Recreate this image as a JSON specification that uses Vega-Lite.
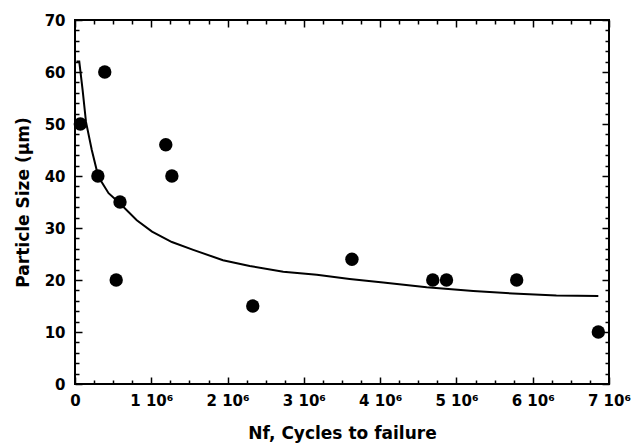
{
  "$schema": "https://vega.github.io/schema/vega-lite/v6.json",
  "width": 534,
  "height": 364,
  "autosize": {"type": "none"},
  "padding": {"left": 75, "top": 20, "right": 25, "bottom": 63},
  "background": "white",
  "config": {
    "view": {"stroke": "black", "strokeWidth": 2},
    "font": "DejaVu Sans",
    "axis": {
      "domain": false,
      "grid": false,
      "tickColor": "black",
      "tickWidth": 1.5,
      "labelFont": "DejaVu Sans",
      "labelFontWeight": "bold",
      "labelFontSize": 15,
      "labelColor": "black",
      "titleFont": "DejaVu Sans",
      "titleFontWeight": "bold",
      "titleFontSize": 17,
      "titleColor": "black"
    }
  },
  "datasets": {
    "points": [
      {"cycles": 70000, "size": 50},
      {"cycles": 390000, "size": 60},
      {"cycles": 300000, "size": 40},
      {"cycles": 590000, "size": 35},
      {"cycles": 540000, "size": 20},
      {"cycles": 1190000, "size": 46},
      {"cycles": 1270000, "size": 40},
      {"cycles": 2330000, "size": 15},
      {"cycles": 3630000, "size": 24},
      {"cycles": 4690000, "size": 20},
      {"cycles": 4870000, "size": 20},
      {"cycles": 5790000, "size": 20},
      {"cycles": 6860000, "size": 10}
    ],
    "fit": [
      {"cycles": 20000, "size": 62.0},
      {"cycles": 56000, "size": 62.0},
      {"cycles": 100000, "size": 56.5},
      {"cycles": 144000, "size": 50.4},
      {"cycles": 220000, "size": 45.0},
      {"cycles": 305000, "size": 39.9},
      {"cycles": 440000, "size": 36.7},
      {"cycles": 590000, "size": 34.7},
      {"cycles": 810000, "size": 31.5},
      {"cycles": 1010000, "size": 29.3},
      {"cycles": 1270000, "size": 27.3},
      {"cycles": 1550000, "size": 25.8},
      {"cycles": 1940000, "size": 23.8},
      {"cycles": 2290000, "size": 22.7},
      {"cycles": 2730000, "size": 21.6},
      {"cycles": 3170000, "size": 21.0},
      {"cycles": 3600000, "size": 20.2},
      {"cycles": 4040000, "size": 19.5},
      {"cycles": 4610000, "size": 18.6},
      {"cycles": 5220000, "size": 17.9},
      {"cycles": 5740000, "size": 17.4},
      {"cycles": 6310000, "size": 17.0},
      {"cycles": 6860000, "size": 16.9}
    ]
  },
  "resolve": {"axis": {"x": "independent", "y": "independent"}},
  "layer": [
    {
      "data": {"name": "fit"},
      "mark": {"type": "line", "color": "black", "strokeWidth": 2},
      "encoding": {
        "x": {
          "field": "cycles", "type": "quantitative",
          "scale": {"domain": [0, 7000000], "nice": false, "zero": false},
          "axis": {
            "orient": "bottom",
            "title": "Nf, Cycles to failure",
            "titlePadding": 14,
            "values": [0,250000,500000,750000,1000000,1250000,1500000,1750000,2000000,2250000,2500000,2750000,3000000,3250000,3500000,3750000,4000000,4250000,4500000,4750000,5000000,5250000,5500000,5750000,6000000,6250000,6500000,6750000,7000000],
            "tickSize": {"condition": {"test": "datum.value % 1000000 === 0", "value": -7}, "value": -4},
            "labelExpr": "datum.value % 1000000 === 0 ? (datum.value === 0 ? '0' : format(datum.value / 1000000, 'd') + ' 10⁶') : ''",
            "labelPadding": 16,
            "labelOverlap": false,
            "labelBound": false,
            "labelFlush": false
          }
        },
        "y": {
          "field": "size", "type": "quantitative",
          "scale": {"domain": [0, 70], "nice": false, "zero": false},
          "axis": {
            "orient": "left",
            "title": "Particle Size (μm)",
            "titlePadding": 12,
            "values": [0,2,4,6,8,10,12,14,16,18,20,22,24,26,28,30,32,34,36,38,40,42,44,46,48,50,52,54,56,58,60,62,64,66,68,70],
            "tickSize": {"condition": {"test": "datum.value % 10 === 0", "value": -7}, "value": -4},
            "labelExpr": "datum.value % 10 === 0 ? datum.label : ''",
            "labelPadding": 17,
            "labelOverlap": false,
            "labelBound": false,
            "labelFlush": false
          }
        }
      }
    },
    {
      "data": {"name": "points"},
      "mark": {"type": "circle", "color": "black", "opacity": 1, "size": 180},
      "encoding": {
        "x": {
          "field": "cycles", "type": "quantitative",
          "axis": {
            "orient": "top",
            "title": null,
            "labels": false,
            "values": [0,250000,500000,750000,1000000,1250000,1500000,1750000,2000000,2250000,2500000,2750000,3000000,3250000,3500000,3750000,4000000,4250000,4500000,4750000,5000000,5250000,5500000,5750000,6000000,6250000,6500000,6750000,7000000],
            "tickSize": {"condition": {"test": "datum.value % 1000000 === 0", "value": -7}, "value": -4}
          }
        },
        "y": {
          "field": "size", "type": "quantitative",
          "axis": {
            "orient": "right",
            "title": null,
            "labels": false,
            "values": [0,2,4,6,8,10,12,14,16,18,20,22,24,26,28,30,32,34,36,38,40,42,44,46,48,50,52,54,56,58,60,62,64,66,68,70],
            "tickSize": {"condition": {"test": "datum.value % 10 === 0", "value": -7}, "value": -4}
          }
        }
      }
    }
  ]
}
